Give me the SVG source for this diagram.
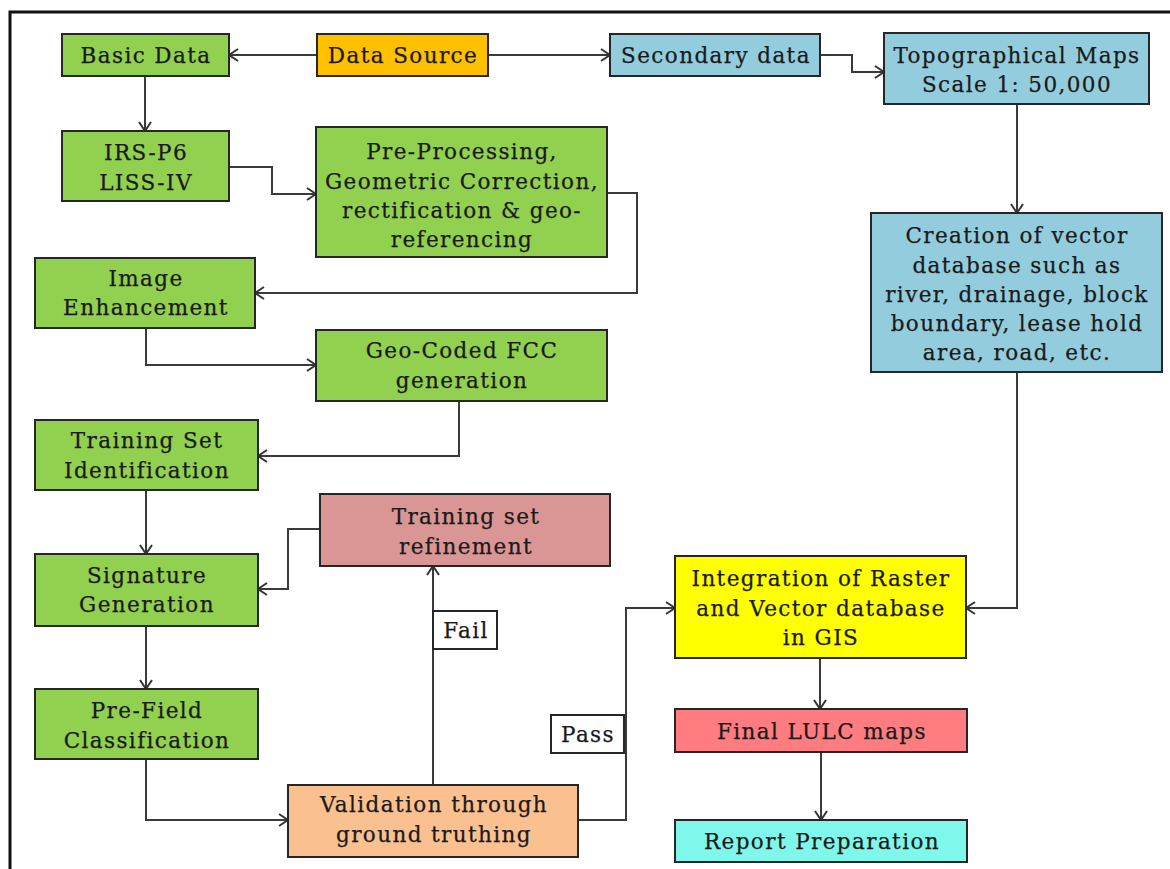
<svg xmlns="http://www.w3.org/2000/svg" width="1170" height="869" viewBox="0 0 1170 869">
<defs>
<marker id="ah" markerUnits="userSpaceOnUse" markerWidth="12" markerHeight="14" refX="10" refY="7" orient="auto">
<path d="M1,1 L10,7 L1,13" fill="none" stroke="#333" stroke-width="2"/>
</marker>
<style>
.n rect{stroke:#262626;stroke-width:2}
.n text{font-family:"DejaVu Serif","Liberation Serif",serif;font-size:21.5px;letter-spacing:1.4px;fill:#1a1a1a;stroke:#1a1a1a;stroke-width:0.25;text-anchor:middle;dominant-baseline:central}
.g{fill:#92D050}
.b{fill:#93CDDD}
.c path{fill:none;stroke:#3a3a3a;stroke-width:2;marker-end:url(#ah)}
.lbl rect{fill:#fff;stroke:#262626;stroke-width:2}
</style>
</defs>
<rect x="0" y="0" width="1170" height="869" fill="#fff"/>
<rect x="10" y="12" width="1175" height="875" fill="none" stroke="#111" stroke-width="3"/>
<g id="connectors" class="c">
<path d="M317,55 L229,55"/>
<path d="M488,55 L610,55"/>
<path d="M820,55 L852,55 L852,72 L884,72"/>
<path d="M1017,104 L1017,213"/>
<path d="M145,76 L145,131"/>
<path d="M229,167 L272,167 L272,194 L316,194"/>
<path d="M607,193 L637,193 L637,293 L255,293"/>
<path d="M146,328 L146,365 L316,365"/>
<path d="M459,401 L459,456 L258,456"/>
<path d="M146,490 L146,554"/>
<path d="M320,529 L288,529 L288,589 L258,589"/>
<path d="M146,626 L146,689"/>
<path d="M146,759 L146,820 L288,820"/>
<path d="M433,785 L433,566"/>
<path d="M578,820 L626,820 L626,608 L675,608"/>
<path d="M1017,372 L1017,608 L966,608"/>
<path d="M820,658 L820,709"/>
<path d="M821,752 L821,820"/>
</g>
<g id="n-basic" class="n"><rect class="g" x="62" y="34" width="167" height="42"/><text x="146" y="55">Basic Data</text></g>
<g id="n-source" class="n"><rect x="317" y="34" width="171" height="42" fill="#FFC000"/><text x="403" y="55">Data Source</text></g>
<g id="n-secondary" class="n"><rect class="b" x="610" y="34" width="210" height="42"/><text x="716" y="55">Secondary data</text></g>
<g id="n-topo" class="n"><rect class="b" x="884" y="33" width="265" height="71"/><text x="1017" y="55">Topographical Maps</text><text x="1017" y="84">Scale 1: 50,000</text></g>
<g id="n-irs" class="n"><rect class="g" x="62" y="131" width="167" height="70"/><text x="146" y="152">IRS-P6</text><text x="146" y="182">LISS-IV</text></g>
<g id="n-preproc" class="n"><rect class="g" x="316" y="127" width="291" height="130"/><text x="462" y="151">Pre-Processing,</text><text x="462" y="181">Geometric Correction,</text><text x="462" y="210">rectification &amp; geo-</text><text x="462" y="239">referencing</text></g>
<g id="n-enh" class="n"><rect class="g" x="35" y="258" width="220" height="70"/><text x="146" y="278">Image</text><text x="146" y="307">Enhancement</text></g>
<g id="n-fcc" class="n"><rect class="g" x="316" y="330" width="291" height="71"/><text x="462" y="350">Geo-Coded FCC</text><text x="462" y="380">generation</text></g>
<g id="n-tsi" class="n"><rect class="g" x="35" y="420" width="223" height="70"/><text x="147" y="440">Training Set</text><text x="147" y="470">Identification</text></g>
<g id="n-refine" class="n"><rect x="320" y="494" width="290" height="72" fill="#D99694"/><text x="466" y="516">Training set</text><text x="466" y="546">refinement</text></g>
<g id="n-sig" class="n"><rect class="g" x="35" y="554" width="223" height="72"/><text x="147" y="575">Signature</text><text x="147" y="604">Generation</text></g>
<g id="n-prefield" class="n"><rect class="g" x="35" y="689" width="223" height="70"/><text x="147" y="710">Pre-Field</text><text x="147" y="740">Classification</text></g>
<g id="n-valid" class="n"><rect x="288" y="785" width="290" height="72" fill="#FAC090"/><text x="434" y="804">Validation through</text><text x="434" y="834">ground truthing</text></g>
<g id="n-vector" class="n"><rect class="b" x="871" y="213" width="291" height="159"/><text x="1017" y="235">Creation of vector</text><text x="1017" y="265">database such as</text><text x="1017" y="294">river, drainage, block</text><text x="1017" y="323">boundary, lease hold</text><text x="1017" y="352">area, road, etc.</text></g>
<g id="n-integ" class="n"><rect x="675" y="556" width="291" height="102" fill="#FFFF00"/><text x="821" y="578">Integration of Raster</text><text x="821" y="608">and Vector database</text><text x="821" y="637">in GIS</text></g>
<g id="n-final" class="n"><rect x="675" y="709" width="292" height="43" fill="#FF7C80"/><text x="822" y="731">Final LULC maps</text></g>
<g id="n-report" class="n"><rect x="675" y="820" width="292" height="42" fill="#7FF7EB"/><text x="822" y="841">Report Preparation</text></g>
<g id="l-fail" class="n lbl"><rect x="433" y="611" width="64" height="38"/><text x="466" y="630">Fail</text></g>
<g id="l-pass" class="n lbl"><rect x="551" y="715" width="73" height="38"/><text x="588" y="734">Pass</text></g>
</svg>
